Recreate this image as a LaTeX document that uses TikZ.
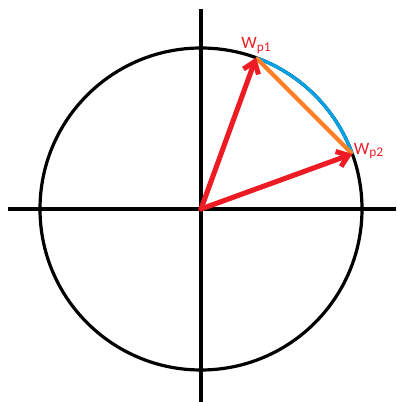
\documentclass[tikz,border=0pt]{standalone}
\usepackage{fontspec}
\setmainfont{Carlito}
\usepackage{tikz}
\usetikzlibrary{calc,arrows.meta,positioning}
\definecolor{paintRed}{HTML}{ED1C24}
\definecolor{paintBlue}{HTML}{00A2E8}
\definecolor{paintOrange}{HTML}{FF7F27}
\tikzset{
  axisline/.style={draw=black, line width=2.4pt},
  unitcircle/.style={draw=black, line width=2.4pt},
  arcline/.style={draw=paintBlue, line width=2.4pt},
  chordline/.style={draw=paintOrange, line width=3.2pt},
  vecarrow/.style={-{Straight Barb[length=8pt,width=12pt]}, draw=paintRed, line width=3.8pt, line cap=round},
  wlabel/.style={font=\fontsize{13}{13}\selectfont, text=paintRed, inner sep=0pt},
}
\newcommand{\wsub}[1]{W\raisebox{-0.3ex}{\fontsize{10}{10}\selectfont #1}}

\begin{document}
\begin{tikzpicture}[x=0.75pt,y=0.75pt]
  \useasboundingbox (-201,-193) rectangle (195,209);
  \coordinate (O) at (0,0);
  \coordinate (xl) at (-193,0);
  \coordinate (xr) at (195,0);
  \coordinate (yt) at (0,200);
  \coordinate (yb) at (0,-193);
  \coordinate (p1) at (70:161);
  \coordinate (p2) at (20:161);

  \draw[axisline] (xl) -- (xr);
  \draw[axisline] (yb) -- (yt);
  \draw[unitcircle] (O) circle (161);

  \draw[arcline] (p1) arc (70:20:161);
  \draw[chordline] (p1) -- (p2);
  \draw[vecarrow] (O) -- (p1);
  \draw[vecarrow] (O) -- (p2);

  \node[wlabel, above=3pt of p1] (w1) {\wsub{p1}};
  \node[wlabel, right=1pt of p2, yshift=2pt] (w2) {\wsub{p2}};
\end{tikzpicture}
\end{document}
